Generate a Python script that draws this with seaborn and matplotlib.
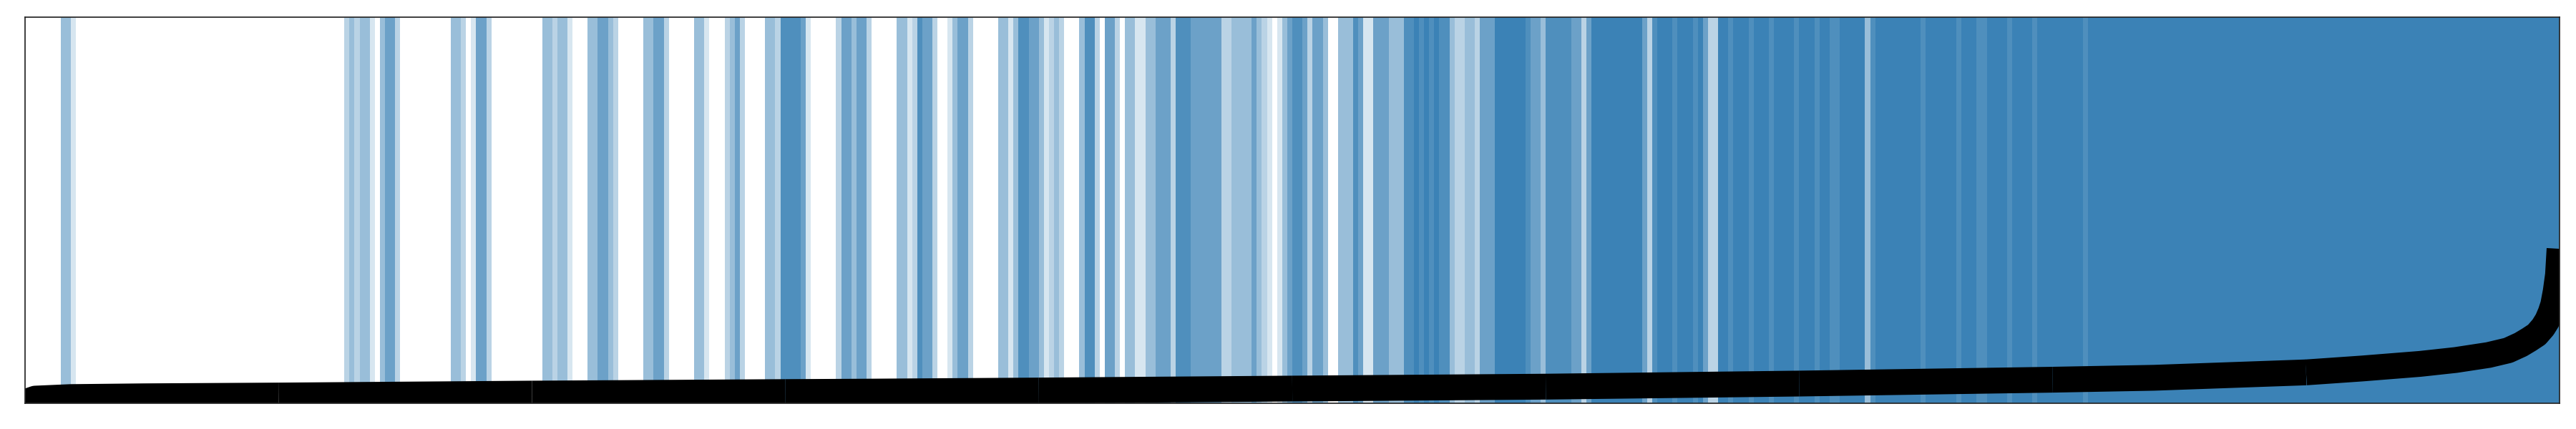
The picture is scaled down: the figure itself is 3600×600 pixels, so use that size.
import numpy as np
import pandas as pd
import matplotlib
matplotlib.use("Agg")
import matplotlib.pyplot as plt
import seaborn as sns
from matplotlib.colors import to_rgb

sns.set_theme(style="white")

# Banda de fondo: un dígito por celda (50 celdas por decil), 0 = vacío, 6 = lleno
BARCODE = [
    "0000000331" "0000000000" "0000000000" "0000000000" "0000000000",
    "0000000000" "0002323310" "3442000000" "0000332014" "4200000000",
    "0033233100" "0334432000" "0033442000" "0033100023" "4200003325",
    "5554100000" "2443442000" "0033125442" "0013442000" "0033135544",
    "3123200035" "5204420331" "1334442555" "4444442233" "3343210134",
    "5542443003" "3354114443" "3355656565" "5322332444" "6666665443",
    "5555544246" "6666666664" "2566656665" "6422665666" "5666566665",
    "6665665566" "6663566666" "6666566666" "6566655666" "6566665666",
    "6666665666" "6666666666" "6666666666" "6666666666" "6666666666",
    "6666666666" "6666666666" "6666666666" "6666666666" "6666666666",
]
LEVEL_ALPHA = [0.0, 0.2, 0.35, 0.52, 0.75, 0.9, 1.0]
BAND_COLOR = "#3b82b6"

# Curva ordenada (x en percentil, y en fracción del eje)
LINE_X = [0, 0.4, 1.8, 4.7, 10, 20, 30, 33, 40, 50, 60, 70, 80, 84, 90,
          92.2, 94.5, 95.9, 97.2, 97.97, 98.47, 98.8, 99.1, 99.35, 99.52,
          99.65, 99.75, 99.85, 99.94, 100]
LINE_Y = [0.003, 0.012, 0.016, 0.018, 0.020, 0.025, 0.029, 0.030, 0.033, 0.038,
          0.043, 0.051, 0.061, 0.066, 0.080, 0.090, 0.102, 0.112, 0.125, 0.137,
          0.152, 0.165, 0.178, 0.197, 0.215, 0.235, 0.255, 0.290, 0.333, 0.400]

fig = plt.figure(figsize=(36, 6), dpi=100)
ax = fig.add_axes([35 / 3600, 36 / 600, 3542 / 3600, 540 / 600])

# Fondo tipo código de barras
levels = np.array([int(c) for c in "".join(BARCODE)])
rgba = np.zeros((1, len(levels), 4))
rgba[0, :, :3] = to_rgb(BAND_COLOR)
rgba[0, :, 3] = np.array(LEVEL_ALPHA)[levels]
ax.imshow(rgba, extent=(0, 100, 0, 1), aspect="auto",
          interpolation="nearest", zorder=0)

# Línea por deciles
line_df = pd.DataFrame({"x": LINE_X, "y": LINE_Y})
for k in range(10):
    seg = line_df[(line_df["x"] >= 10 * k) & (line_df["x"] <= 10 * (k + 1))]
    sns.lineplot(data=seg, x="x", y="y", ax=ax, color="black", linewidth=26,
                 solid_capstyle="butt", solid_joinstyle="round",
                 estimator=None, sort=False, zorder=2)

ax.set_xlim(0, 100)
ax.set_ylim(0, 1)
ax.set_xticks([])
ax.set_yticks([])
ax.set_xlabel("")
ax.set_ylabel("")
for spine in ax.spines.values():
    spine.set_color(".15")
    spine.set_linewidth(1.25)

fig.savefig("out.png", dpi=100)
plt.close(fig)
